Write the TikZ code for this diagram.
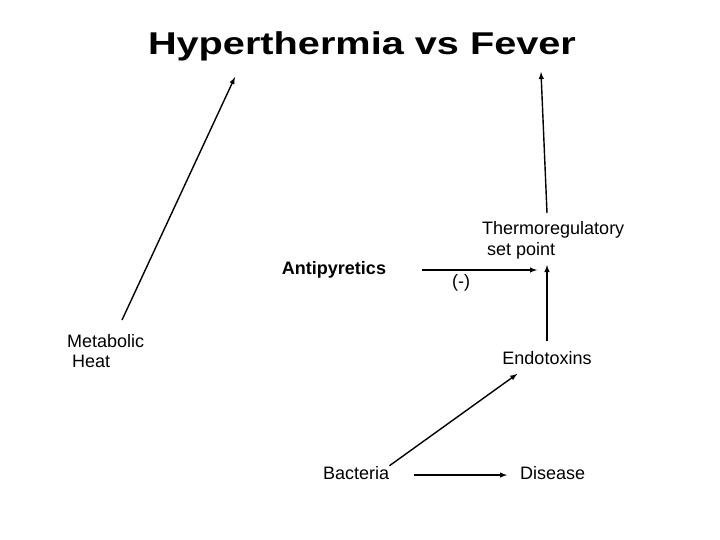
\documentclass[tikz,border=0pt]{standalone}
\usepackage{fontspec}
\setmainfont{Liberation Sans}
\usepackage{tikz}
\usetikzlibrary{arrows}

\begin{document}
\begin{tikzpicture}[x=1pt,y=-1pt,>=latex,
	lbl/.style={inner sep=0pt,font=\fontsize{18}{20.5}\selectfont},
	arr/.style={->,line width=1.4pt}]
	\fill[white] (0,0) rectangle (720,540);
	\useasboundingbox (0,0) rectangle (720,540);
	% labels
	\node[inner sep=0pt,anchor=base] (title) at (362,54.3)
		{\fontsize{31.5}{36}\bfseries\scalebox{1.26}[1]{Hyperthermia vs Fever}};
	\node[lbl,anchor=base,font=\fontsize{18}{20.5}\bfseries] (anti) at (334,274.5) {Antipyretics};
	\node[lbl,anchor=north west,align=left] (thermo) at (482,221.3) {Thermoregulatory\\~set point};
	\node[lbl,anchor=north west,align=left] (heat) at (67,334) {Metabolic\\~Heat};
	\node[lbl,anchor=base] (minus) at (461,287) {(-)};
	\node[lbl,anchor=base] (endo) at (547,364.5) {Endotoxins};
	\node[lbl,anchor=base west] (bac) at (323,479) {Bacteria};
	\node[lbl,anchor=base west] (dis) at (520,479) {Disease};
	% free ends
	\coordinate (heatfoot) at (122,320);
	\coordinate (heattip) at (235,77);
	\coordinate (thermofoot) at (547,213);
	\coordinate (thermotip) at (541,72);
	\coordinate (inhib) at (422,270);
	\coordinate (setpt) at (537,270);
	\coordinate (setptin) at (547,265);
	% arrows
	\draw[arr] (heatfoot) -- (heattip);
	\draw[arr] (thermofoot) -- (thermotip);
	\draw[arr] (inhib) -- (setpt);
	\draw[arr,shorten <=10pt] (endo.north) -- (setptin);
	\draw[arr] (bac.north east) -- ([xshift=15pt,yshift=-9pt]endo.south west);
	\draw[arr,shorten <=25pt,shorten >=13pt] ([yshift=-2.5pt]bac.east) -- ([yshift=-2.5pt]dis.west);
\end{tikzpicture}
\end{document}
